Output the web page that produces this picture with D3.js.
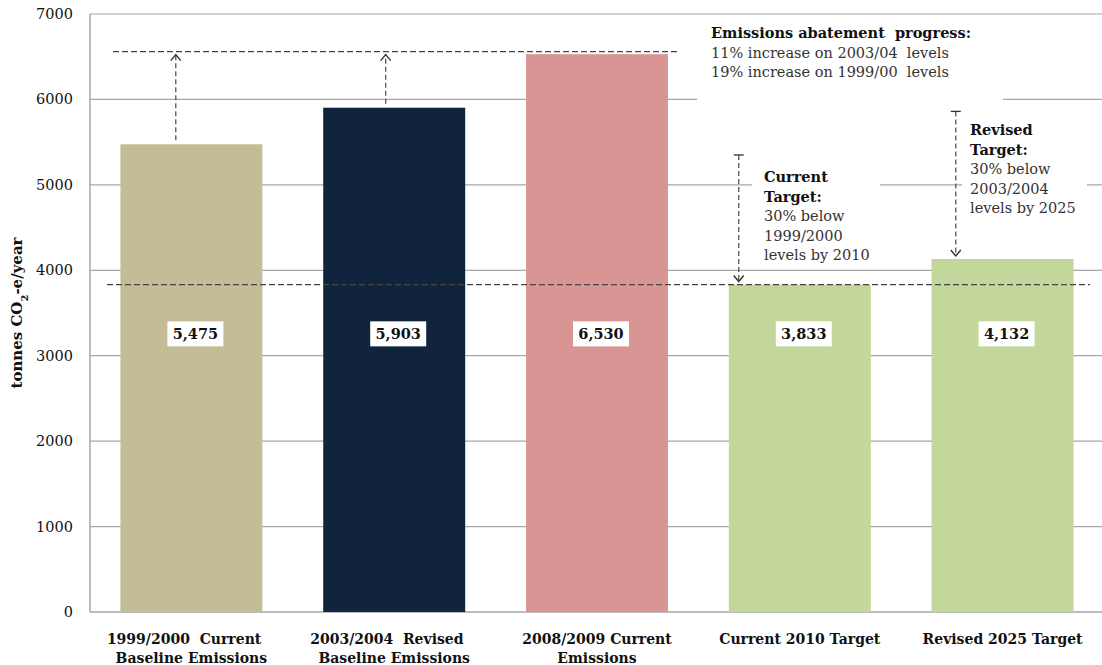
<!DOCTYPE html>
<html>
<head>
<meta charset="utf-8">
<script src="https://cdn.jsdelivr.net/npm/d3@7"></script>
<style>
  body { margin: 0; background: #fff; }
  svg text { font-family: "DejaVu Serif", "Liberation Serif", serif; fill: #111; white-space: pre; }
</style>
</head>
<body>
<div id="chart-area"></div>
<script>
/* Data */
const categories = ["c1", "c2", "c3", "c4", "c5"]
const catLabels = [
  ["1999/2000  Current   ", "Baseline Emissions"],
  ["2003/2004  Revised   ", "Baseline Emissions"],
  ["2008/2009 Current", "Emissions"],
  ["Current 2010 Target"],
  ["Revised 2025 Target"]
]
const values = [5475, 5903, 6530, 3833, 4132]
const barColors = ["#C4BC96", "#10243E", "#D99594", "#C3D69B", "#C3D69B"]
const yTicks = [0, 1000, 2000, 3000, 4000, 5000, 6000, 7000]

// reference levels
const progressLevel = 6560
const targetLevel = 3833
const labelLevel = 3250

// arrows: [category, fraction across bar, from value, to value]
const upArrows = [["c1", 0.39, 5475, progressLevel], ["c2", 0.44, 5903, progressLevel]]
const downArrows = [["c4", 0.07, 5350, 3833], ["c5", 0.17, 5860, 4132]]

/* Chart area */
const W = 1102, H = 665
const MARGIN = { LEFT: 90, RIGHT: -2, TOP: 14, BOTTOM: 53 }

const svg = d3.select("#chart-area").append("svg")
  .attr("width", W)
  .attr("height", H)

const x = d3.scaleBand().domain(categories)
  .range([MARGIN.LEFT, W - MARGIN.RIGHT])
  .paddingInner(0.3).paddingOuter(0.15)
const y = d3.scaleLinear().domain([0, 7000]).range([H - MARGIN.BOTTOM, MARGIN.TOP])

// gridlines
svg.append("g").selectAll("line")
  .data(yTicks.filter(d => d > 0))
  .enter().append("line")
  .attr("x1", MARGIN.LEFT).attr("x2", W)
  .attr("y1", d => y(d)).attr("y2", d => y(d))
  .attr("stroke", "#a6a6a6").attr("stroke-width", 1.2)

// axis lines
svg.append("line")
  .attr("x1", MARGIN.LEFT).attr("x2", MARGIN.LEFT)
  .attr("y1", y(7000)).attr("y2", y(0))
  .attr("stroke", "#a6a6a6").attr("stroke-width", 1.5)
svg.append("line")
  .attr("x1", MARGIN.LEFT).attr("x2", W)
  .attr("y1", y(0)).attr("y2", y(0))
  .attr("stroke", "#a6a6a6").attr("stroke-width", 1.5)

// y tick labels
svg.append("g").selectAll("text")
  .data(yTicks)
  .enter().append("text")
  .attr("x", 73).attr("y", d => y(d) + 5)
  .attr("text-anchor", "end")
  .style("font-size", "14.5px")
  .attr("fill", "#222")
  .text(d => d)

// y label
svg.append("text")
  .attr("transform", `translate(22, ${y(3500)}) rotate(-90)`)
  .attr("text-anchor", "middle")
  .style("font-size", "15px").style("font-weight", "bold")
  .html('tonnes CO<tspan baseline-shift="sub" font-size="10px">2</tspan>-e/year')

// white boxes behind annotation text (break the gridlines)
svg.append("rect").attr("x", 697).attr("y", 20).attr("width", 306).attr("height", 88).attr("fill", "#fff")
svg.append("rect").attr("x", 752).attr("y", 163).attr("width", 128).attr("height", 100).attr("fill", "#fff")
svg.append("rect").attr("x", 962).attr("y", 116).attr("width", 125).attr("height", 100).attr("fill", "#fff")

// bars
svg.append("g").selectAll("rect")
  .data(categories)
  .enter().append("rect")
  .attr("x", d => x(d))
  .attr("width", x.bandwidth())
  .attr("y", (d, i) => y(values[i]))
  .attr("height", (d, i) => y(0) - y(values[i]))
  .attr("fill", (d, i) => barColors[i])

// dashed reference lines
svg.append("line")
  .attr("x1", 113).attr("x2", 678)
  .attr("y1", y(progressLevel)).attr("y2", y(progressLevel))
  .attr("stroke", "#444").attr("stroke-width", 1.3).attr("stroke-dasharray", "6,3")
svg.append("line")
  .attr("x1", 107).attr("x2", 1090)
  .attr("y1", y(targetLevel)).attr("y2", y(targetLevel))
  .attr("stroke", "#444").attr("stroke-width", 1.3).attr("stroke-dasharray", "6,3")

// arrows
function arrowHead(g, ax, ay, dir) {
  g.append("path")
    .attr("d", `M${ax - 5},${ay - 6 * dir} L${ax},${ay} L${ax + 5},${ay - 6 * dir}`)
    .attr("fill", "none").attr("stroke", "#333").attr("stroke-width", 1.4)
}
const arrows = svg.append("g")
upArrows.forEach(a => {
  const ax = x(a[0]) + x.bandwidth() * a[1]
  arrows.append("line")
    .attr("x1", ax).attr("x2", ax)
    .attr("y1", y(a[2]) - 4).attr("y2", y(a[3]) + 3)
    .attr("stroke", "#555").attr("stroke-width", 1.3).attr("stroke-dasharray", "5,3")
  arrowHead(arrows, ax, y(a[3]) + 3, -1)
})
downArrows.forEach(a => {
  const ax = x(a[0]) + x.bandwidth() * a[1]
  arrows.append("line")
    .attr("x1", ax).attr("x2", ax)
    .attr("y1", y(a[2])).attr("y2", y(a[3]) - 3)
    .attr("stroke", "#555").attr("stroke-width", 1.3).attr("stroke-dasharray", "5,3")
  arrows.append("line")
    .attr("x1", ax - 5).attr("x2", ax + 5)
    .attr("y1", y(a[2])).attr("y2", y(a[2]))
    .attr("stroke", "#333").attr("stroke-width", 1.3)
  arrowHead(arrows, ax, y(a[3]) - 3, 1)
})

// value labels
const vl = svg.append("g").selectAll("g")
  .data(categories)
  .enter().append("g")
  .attr("transform", d => `translate(${x(d) + x.bandwidth() / 2 + 4}, ${y(labelLevel)})`)
vl.append("rect")
  .attr("x", -28).attr("y", -13).attr("width", 56).attr("height", 25)
  .attr("fill", "#fff")
vl.append("text")
  .attr("text-anchor", "middle").attr("y", 5)
  .style("font-size", "14.5px").style("font-weight", "bold")
  .text((d, i) => d3.format(",")(values[i]))

// category labels
svg.append("g").selectAll("text")
  .data(categories)
  .enter().append("text")
  .attr("y", 644)
  .attr("text-anchor", "middle")
  .style("font-size", "14px").style("font-weight", "bold")
  .each(function(d, i) {
    d3.select(this).selectAll("tspan")
      .data(catLabels[i])
      .enter().append("tspan")
      .attr("x", x(d) + x.bandwidth() / 2)
      .attr("dy", (t, j) => j === 0 ? 0 : 19)
      .text(t => t)
  })

// annotation text
function textBlock(lines, tx, ty, boldCount) {
  const t = svg.append("text").style("font-size", "14.5px")
  lines.forEach((s, j) => {
    t.append("tspan")
      .attr("x", tx).attr("y", ty + j * 19.5)
      .style("font-weight", j < boldCount ? "bold" : "normal")
      .attr("fill", j < boldCount ? "#111" : "#333")
      .text(s)
  })
}
textBlock(["Emissions abatement  progress:", "11% increase on 2003/04  levels", "19% increase on 1999/00  levels"], 711, 38, 1)
textBlock(["Current", "Target:", "30% below", "1999/2000", "levels by 2010"], 764, 182, 2)
textBlock(["Revised", "Target:", "30% below", "2003/2004", "levels by 2025"], 970, 135, 2)
</script>
</body>
</html>
